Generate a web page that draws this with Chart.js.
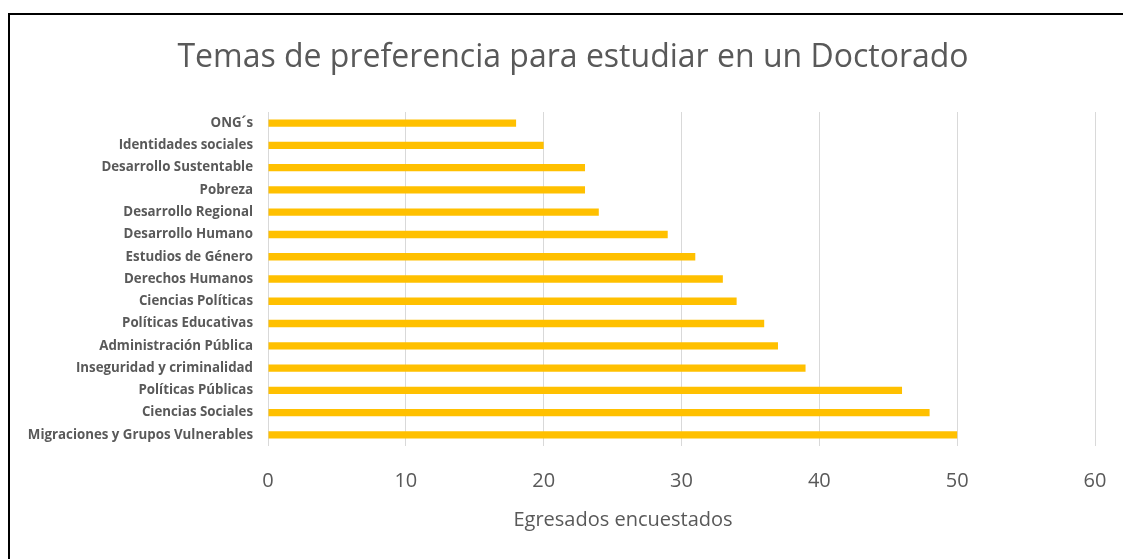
<!DOCTYPE html>
<html>
<head>
<meta charset="utf-8">
<script src="https://cdn.jsdelivr.net/npm/chart.js@4/dist/chart.umd.min.js"></script>
<style>
  html, body { margin: 0; padding: 0; background: #fff; overflow: hidden; }
  #frame {
    position: absolute; left: 8px; top: 13px;
    width: 1130px; height: 560px;
    border-left: 2px solid #000; border-top: 2px solid #000;
    box-sizing: border-box;
  }
  #wrap { position: absolute; left: 8px; top: 13px; width: 1130px; height: 560px; }
</style>
</head>
<body>
<div id="frame"></div>
<div id="wrap"><canvas id="c"></canvas></div>
<script>
const chartTitle = 'Temas de preferencia para estudiar en un Doctorado';
const axisTitle = 'Egresados encuestados';

const categories = [
  'ONG´s',
  'Identidades sociales',
  'Desarrollo Sustentable',
  'Pobreza',
  'Desarrollo Regional',
  'Desarrollo Humano',
  'Estudios de Género',
  'Derechos Humanos',
  'Ciencias Políticas',
  'Políticas Educativas',
  'Administración Pública',
  'Inseguridad y criminalidad',
  'Políticas Públicas',
  'Ciencias Sociales',
  'Migraciones y Grupos Vulnerables'
];
const respondents = [18, 20, 23, 23, 24, 29, 31, 33, 34, 36, 37, 39, 46, 48, 50];

const xMin = 0, xMax = 60, xStep = 10;

const grey = '#595959';

// Chart title centred on the whole frame, x-axis title a little left of the plot centre
const textPlugin = {
  id: 'frameTexts',
  afterDraw(chart) {
    const ctx = chart.ctx;
    ctx.save();
    ctx.fillStyle = grey;
    ctx.textAlign = 'center';
    ctx.textBaseline = 'middle';
    ctx.font = '32px "Open Sans", sans-serif';
    ctx.fillText(chartTitle, chart.width / 2, 45);
    ctx.font = '20px "Open Sans", sans-serif';
    ctx.fillText(axisTitle, 615, 507);
    ctx.restore();
  }
};

new Chart(document.getElementById('c'), {
  type: 'bar',
  data: {
    labels: categories,
    datasets: [{
      data: respondents,
      backgroundColor: '#FFC000',
      borderWidth: 0,
      categoryPercentage: 1,
      barPercentage: 0.33
    }]
  },
  options: {
    indexAxis: 'y',
    responsive: true,
    maintainAspectRatio: false,
    animation: false,
    layout: { padding: { left: 0, right: 43, top: 99, bottom: 0 } },
    plugins: {
      legend: { display: false },
      tooltip: { enabled: false },
      title: { display: false }
    },
    scales: {
      x: {
        min: xMin, max: xMax,
        ticks: {
          stepSize: xStep,
          color: grey,
          padding: 23,
          font: { family: '"Open Sans", sans-serif', size: 20 }
        },
        grid: { color: '#d9d9d9', lineWidth: 1, drawTicks: false },
        border: { display: false },
        afterFit(scale) { scale.height = 127; }
      },
      y: {
        ticks: {
          color: grey,
          padding: 15,
          autoSkip: false,
          font: { family: '"Open Sans", sans-serif', size: 13.3, weight: 'bold' }
        },
        grid: { display: false, drawTicks: false },
        border: { display: false },
        afterFit(scale) { scale.width = 260; }
      }
    }
  },
  plugins: [textPlugin]
});
</script>
</body>
</html>
